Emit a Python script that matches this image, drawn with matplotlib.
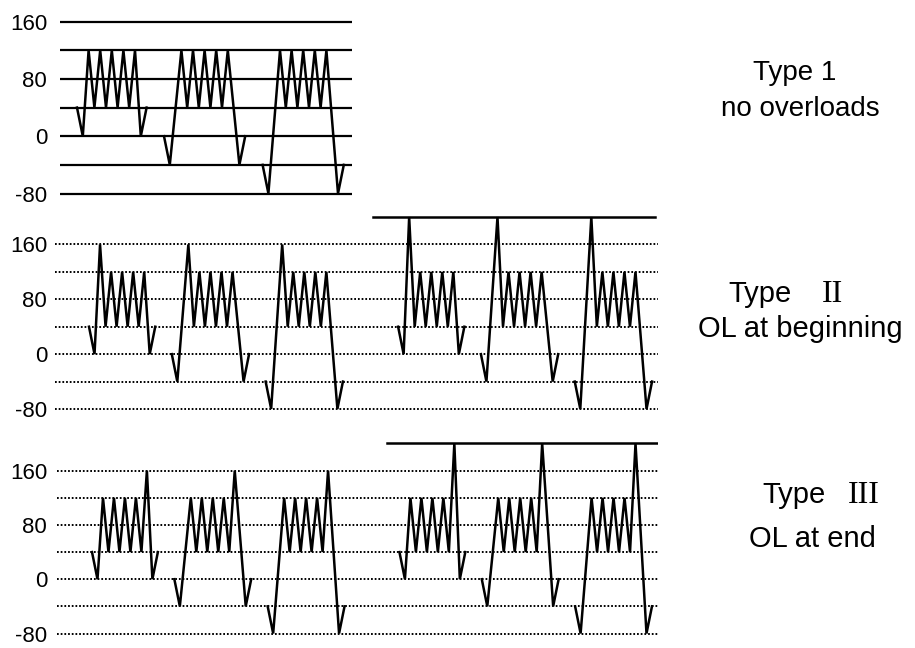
import matplotlib
matplotlib.use("Agg")
import matplotlib.pyplot as plt

# ---------------- data ----------------
tick_values = [160, 80, 0, -80]
tick_labels = ["160", "80", "0", "-80"]
grid_levels = [160, 120, 80, 40, 0, -40, -80]
overload_ref_level = 200

block_start_levels = [40, 0, -40]      # level at start/end of each block
dip_depth = 40                          # small dip before / after each block
cycle_low = 40                          # troughs of the constant-amplitude cycles
type1_peaks = [120, 120, 120, 120, 120]
type2_peaks_ol160 = [160, 120, 120, 120, 120]
type2_peaks_ol200 = [200, 120, 120, 120, 120]
type3_peaks_ol160 = [120, 120, 120, 120, 160]
type3_peaks_ol200 = [120, 120, 120, 120, 200]
ramp_steps = [1, 2, 2]                  # reversals spent on the big ramps per block
gap_steps = 3                           # idle reversals between blocks
second_series_start = 56                # start of the 200-overload sequence

title_main = ["Type 1", "Type", "Type"]
title_roman = ["", "II", "III"]
title_sub = ["no overloads", "OL at beginning", "OL at end"]


def build_series(peaks, t_start):
    ts, vs = [], []
    tc = t_start
    for L, r in zip(block_start_levels, ramp_steps):
        bt, bv = [tc], [L]
        tc += 1
        bt.append(tc); bv.append(L - dip_depth)
        for i, p in enumerate(peaks):
            tc += r if i == 0 else 1
            bt.append(tc); bv.append(p)
            if i < len(peaks) - 1:
                tc += 1
                bt.append(tc); bv.append(cycle_low)
        tc += r
        bt.append(tc); bv.append(L - dip_depth)
        tc += 1
        bt.append(tc); bv.append(L)
        ts.append(bt); vs.append(bv)
        tc += gap_steps
    return ts, vs


# ---------------- layout ----------------
W, H = 915, 648
fig = plt.figure(figsize=(W / 100, H / 100), dpi=100)
fig.patch.set_facecolor("white")

num_font = ["Liberation Sans Narrow", "Liberation Sans", "DejaVu Sans"]
txt_font = ["Liberation Sans", "DejaVu Sans"]
rom_font = ["Liberation Serif", "DejaVu Serif"]


def make_axes(x_left, x_right, px_top, val_top, px_bot, val_bot, t0_px, step_px, label_pad_px):
    ppu = (px_bot - px_top) / (val_top - val_bot)
    pad = 15
    top_px = px_top - pad * ppu
    bot_px = px_bot + pad * ppu
    ax = fig.add_axes([x_left / W, 1 - bot_px / H, (x_right - x_left) / W, (bot_px - top_px) / H])
    ax.set_xlim((x_left - t0_px) / step_px, (x_right - t0_px) / step_px)
    ax.set_ylim(val_bot - pad, val_top + pad)
    for s in ax.spines.values():
        s.set_visible(False)
    ax.set_xticks([])
    ax.set_yticks(tick_values)
    ax.set_yticklabels(tick_labels, family=num_font, fontsize=16, color="black")
    ax.tick_params(axis="y", length=0, pad=label_pad_px * 0.72)
    ax.patch.set_alpha(0)
    return ax


wave_kw = dict(color="black", lw=1.8, solid_joinstyle="miter", clip_on=False)
dot_kw = dict(color="black", lw=1.4, linestyle=(0, (0.9, 1.0)), dash_capstyle="butt")

# ---- Type 1 ----
ax1 = make_axes(60, 352, 21.7, 160, 193.5, -80, 77, 5.8, 13)
for g in grid_levels:
    ax1.axhline(g, color="black", lw=1.6)
ts, vs = build_series(type1_peaks, 0)
for t, v in zip(ts, vs):
    ax1.plot(t, v, **wave_kw)

# ---- Type II ----
ax2 = make_axes(55, 658, 217, 200, 409, -80, 89, 5.52, 8)
for g in grid_levels:
    ax2.axhline(g, **dot_kw)
x_end2 = ax2.get_xlim()[1]
ax2.plot([second_series_start - 4.5, x_end2 - 0.5], [overload_ref_level] * 2, color="black", lw=1.8)
for peaks, start in [(type2_peaks_ol160, 0), (type2_peaks_ol200, second_series_start)]:
    ts, vs = build_series(peaks, start)
    for t, v in zip(ts, vs):
        ax2.plot(t, v, **wave_kw)

# ---- Type III ----
ax3 = make_axes(57, 658, 443.5, 200, 633.5, -80, 92, 5.49, 10)
for g in grid_levels:
    ax3.axhline(g, **dot_kw)
x_end3 = ax3.get_xlim()[1]
ax3.plot([second_series_start - 2.3, x_end3 - 0.2], [overload_ref_level] * 2, color="black", lw=1.8)
for peaks, start in [(type3_peaks_ol160, 0), (type3_peaks_ol200, second_series_start)]:
    ts, vs = build_series(peaks, start)
    for t, v in zip(ts, vs):
        ax3.plot(t, v, **wave_kw)

# ---- right-hand captions ----
def ftext(x, y, s, **kw):
    fig.text(x / W, 1 - y / H, s, color="black", va="baseline", **kw)

ftext(795, 80, title_main[0], ha="center", family=txt_font, fontsize=20)
ftext(800, 116, title_sub[0], ha="center", family=txt_font, fontsize=20)

ftext(728, 302, title_main[1], ha="left", family=txt_font, fontsize=21)
ftext(843, 302, title_roman[1], ha="right", family=rom_font, fontsize=23)
ftext(800, 337, title_sub[1], ha="center", family=txt_font, fontsize=21)

ftext(762, 503, title_main[2], ha="left", family=txt_font, fontsize=21)
ftext(880, 503, title_roman[2], ha="right", family=rom_font, fontsize=23)
ftext(812, 547, title_sub[2], ha="center", family=txt_font, fontsize=21)

fig.savefig("out.png", dpi=100, facecolor="white")
